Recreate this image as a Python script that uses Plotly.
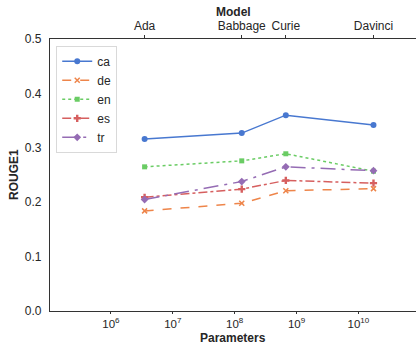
import plotly.graph_objects as go

models = ["Ada", "Babbage", "Curie", "Davinci"]
params = [3.5e6, 1.3e8, 6.7e8, 1.75e10]
languages = ["ca", "de", "en", "es", "tr"]
rouge1 = {
    "ca": [0.316, 0.327, 0.360, 0.342],
    "de": [0.184, 0.198, 0.221, 0.225],
    "en": [0.265, 0.276, 0.289, 0.257],
    "es": [0.209, 0.224, 0.240, 0.235],
    "tr": [0.205, 0.238, 0.265, 0.258],
}
y_ticks = [0.0, 0.1, 0.2, 0.3, 0.4, 0.5]
x_tickvals = [1e6, 1e7, 1e8, 1e9, 1e10]
x_ticktext = ["10<sup>6</sup>", "10<sup>7</sup>", "10<sup>8</sup>", "10<sup>9</sup>", "10<sup>10</sup>"]

colors = {"ca": "#4878d0", "de": "#ee854a", "en": "#6acc64", "es": "#d65f5f", "tr": "#956cb4"}
symbols = {"ca": "circle", "de": "x-thin", "en": "square", "es": "cross", "tr": "diamond"}
dashes = {"ca": "solid", "de": "dash", "en": "dot", "es": "dashdot", "tr": "longdashdot"}
msize = {"ca": 6, "de": 5, "en": 5, "es": 6, "tr": 6}

fig = go.Figure()
for lang in languages:
    fig.add_trace(go.Scatter(
        x=params, y=rouge1[lang], name=lang, mode="lines+markers",
        line=dict(color=colors[lang], width=1.5, dash=dashes[lang]),
        marker=dict(symbol=symbols[lang], size=msize[lang], color=colors[lang],
                    line=dict(color=colors[lang], width=1.5 if lang == "de" else 0)),
    ))
# invisible trace to activate top axis
fig.add_trace(go.Scatter(x=params, y=rouge1["ca"], xaxis="x2", mode="markers",
                         marker=dict(opacity=0), showlegend=False, hoverinfo="skip"))

xr = [5.015, 10.93]
axis_col = "#333333"
txt_col = "#262626"
font = dict(family="Liberation Sans, Arial, sans-serif", size=12, color=txt_col)

fig.update_layout(
    width=416, height=344,
    margin=dict(l=50, r=0, t=39, b=33),
    plot_bgcolor="white", paper_bgcolor="white",
    font=font,
    showlegend=True,
    legend=dict(x=0.017, y=0.975, xanchor="left", yanchor="top",
                bgcolor="white", bordercolor="#d9d9d9", borderwidth=1,
                font=dict(size=12), itemwidth=30, tracegroupgap=0),
    xaxis=dict(type="log", range=xr, tickvals=x_tickvals, ticktext=x_ticktext,
               automargin=False, tickfont=dict(size=11.5),
               showgrid=False, zeroline=False, showline=True, linecolor=axis_col, linewidth=1.25,
               ticks="outside", ticklen=2, tickcolor=axis_col),
    xaxis2=dict(type="log", range=xr, overlaying="x", side="top", anchor="y",
                tickvals=params, ticktext=models, automargin=False,
                showgrid=False, zeroline=False, showline=True, linecolor=axis_col, linewidth=1.25,
                ticks="outside", ticklen=3, tickcolor=axis_col),
    yaxis=dict(range=[0, 0.5], tickvals=y_ticks, ticktext=[f"{v:.1f}" for v in y_ticks],
               automargin=False, ticklabelstandoff=5,
               showgrid=False, zeroline=False, showline=True, linecolor=axis_col, linewidth=1.25,
               ticks="", ticklen=0),
    annotations=[
        dict(text="<b>Model</b>", xref="paper", yref="paper", x=0.5, y=1, yshift=27,
             xanchor="center", yanchor="middle", showarrow=False, font=dict(size=12, color=txt_col)),
        dict(text="<b>Parameters</b>", xref="paper", yref="paper", x=0.5, y=0, yshift=-26.5,
             xanchor="center", yanchor="middle", showarrow=False, font=dict(size=12, color=txt_col)),
        dict(text="<b>ROUGE1</b>", xref="paper", yref="paper", x=0, y=0.5, xshift=-36,
             xanchor="center", yanchor="middle", textangle=-90, showarrow=False,
             font=dict(size=12, color=txt_col)),
    ],
)

fig.write_html("out.html", config={"displayModeBar": False},
               post_script="document.body.style.margin='0';document.body.style.overflow='hidden';")
